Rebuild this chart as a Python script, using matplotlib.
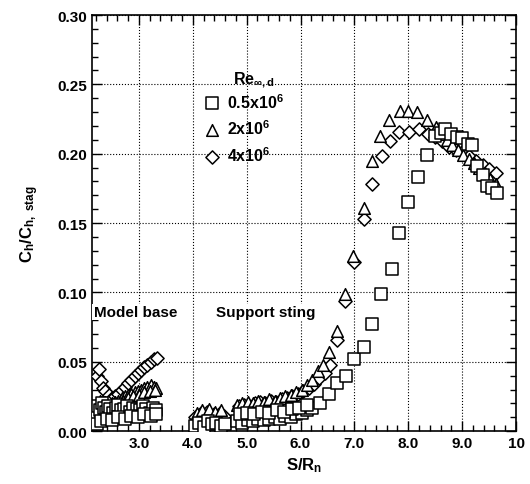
import matplotlib.pyplot as plt
from matplotlib.ticker import MultipleLocator, FixedLocator, FixedFormatter

plt.rcParams['font.family'] = ['Liberation Sans', 'DejaVu Sans']
plt.rcParams['font.weight'] = 'bold'
plt.rcParams['mathtext.fontset'] = 'custom'
plt.rcParams['mathtext.rm'] = 'Liberation Sans:bold'
plt.rcParams['mathtext.it'] = 'Liberation Sans:bold'
plt.rcParams['mathtext.bf'] = 'Liberation Sans:bold'

# Re = 0.5x10^6 (squares)
sq_x = [2.22, 2.25, 2.28, 2.31, 2.35, 2.39, 2.43, 2.47, 2.52, 2.57, 2.62, 2.67,
        2.72, 2.78, 2.84, 2.90, 2.96, 3.02, 3.08, 3.14, 3.20, 3.26, 3.32,
        2.22, 2.30, 2.40, 2.50, 2.62, 2.74, 2.86, 2.98, 3.10, 3.22, 3.32,
        4.05, 4.12, 4.20, 4.28, 4.36, 4.44, 4.52, 4.60,
        4.82, 4.92, 5.02, 5.12, 5.22, 5.32, 5.42, 5.52, 5.62, 5.72, 5.82, 5.92,
        6.02, 6.12, 6.22, 6.37, 6.52,
        4.88, 5.00, 5.14, 5.28, 5.42, 5.56, 5.70, 5.84, 5.98, 6.12,
        6.68, 6.85, 7.00, 7.17, 7.33, 7.50, 7.69, 7.83, 8.00, 8.19, 8.35, 8.50,
        8.60, 8.69, 8.80, 8.90, 9.00, 9.10, 9.18, 9.28, 9.38, 9.46, 9.56, 9.65]
sq_y = [0.012, 0.018, 0.015, 0.020, 0.017, 0.014, 0.018, 0.016, 0.013, 0.017, 0.019, 0.015,
        0.016, 0.018, 0.014, 0.017, 0.016, 0.015, 0.018, 0.016, 0.013, 0.017, 0.015,
        0.005, 0.007, 0.009, 0.008, 0.010, 0.009, 0.011, 0.010, 0.012, 0.011, 0.012,
        0.004, 0.006, 0.003, 0.007, 0.005, 0.006, 0.004, 0.005,
        0.007, 0.006, 0.008, 0.007, 0.009, 0.008, 0.009, 0.010, 0.009, 0.011, 0.010, 0.012,
        0.013, 0.015, 0.017, 0.020, 0.027,
        0.012, 0.013, 0.012, 0.014, 0.013, 0.015, 0.014, 0.016, 0.017, 0.019,
        0.035, 0.040, 0.052, 0.061, 0.077, 0.099, 0.117, 0.143, 0.165, 0.183, 0.199, 0.213,
        0.215, 0.218, 0.214, 0.212, 0.211, 0.207, 0.206, 0.191, 0.185, 0.177, 0.175, 0.172]

# Re = 2x10^6 (triangles)
tr_x = [2.22, 2.27, 2.32, 2.38, 2.44, 2.50, 2.56, 2.62, 2.68, 2.74, 2.80, 2.86,
        2.92, 2.98, 3.04, 3.10, 3.16, 3.22, 3.28, 3.32,
        2.70, 2.80, 2.90, 3.00, 3.10, 3.20, 3.30,
        4.08, 4.18, 4.30, 4.42, 4.52,
        4.82, 4.92, 5.02, 5.12, 5.22, 5.32, 5.42, 5.52, 5.62, 5.72, 5.82, 5.92,
        6.02, 6.12, 6.22, 6.32, 6.42, 6.52,
        6.67, 6.83, 6.98, 7.17, 7.33, 7.48, 7.65, 7.85, 8.00, 8.17, 8.35, 8.52,
        8.62, 8.72, 8.82, 8.92, 9.02, 9.12, 9.22, 9.32, 9.42, 9.52, 9.62]
tr_y = [0.020, 0.022, 0.019, 0.021, 0.018, 0.020, 0.021, 0.022, 0.024, 0.025, 0.026, 0.027,
        0.028, 0.029, 0.030, 0.031, 0.032, 0.033, 0.032, 0.031,
        0.022, 0.024, 0.025, 0.026, 0.028, 0.029, 0.030,
        0.013, 0.015, 0.016, 0.014, 0.015,
        0.019, 0.020, 0.021, 0.020, 0.022, 0.021, 0.023, 0.022, 0.024, 0.025, 0.026, 0.028,
        0.030, 0.033, 0.037, 0.043, 0.048, 0.057,
        0.072, 0.099, 0.126, 0.161, 0.195, 0.213, 0.224, 0.231, 0.231, 0.230, 0.224, 0.219,
        0.214, 0.210, 0.206, 0.203, 0.199, 0.196, 0.193, 0.190, 0.186, 0.182, 0.178]

# Re = 4x10^6 (diamonds)
dm_x = [2.22, 2.26, 2.30, 2.34, 2.38, 2.44, 2.50, 2.56, 2.62, 2.68, 2.74, 2.80,
        2.86, 2.92, 2.98, 3.04, 3.10, 3.16, 3.22, 3.28, 3.33,
        2.24, 2.32, 2.42, 2.52,
        4.05, 4.15, 4.27, 4.40, 4.50, 4.58,
        4.85, 4.95, 5.05, 5.15, 5.25, 5.35, 5.45, 5.55, 5.65, 5.75, 5.85, 5.95,
        6.05, 6.15, 6.25, 6.35, 6.45, 6.55,
        6.67, 6.83, 7.00, 7.17, 7.33, 7.52, 7.67, 7.82, 8.02, 8.20, 8.37, 8.50,
        8.62, 8.75, 8.88, 9.00, 9.12, 9.25, 9.38, 9.50, 9.62]
dm_y = [0.040, 0.045, 0.036, 0.031, 0.029, 0.026, 0.024, 0.025, 0.027, 0.030, 0.032, 0.035,
        0.037, 0.040, 0.042, 0.044, 0.046, 0.048, 0.050, 0.052, 0.053,
        0.018, 0.020, 0.017, 0.019,
        0.010, 0.013, 0.014, 0.012, 0.013, 0.011,
        0.018, 0.019, 0.018, 0.020, 0.021, 0.020, 0.022, 0.021, 0.023, 0.024, 0.025, 0.027,
        0.029, 0.031, 0.034, 0.038, 0.042, 0.048,
        0.066, 0.094, 0.122, 0.153, 0.178, 0.198, 0.209, 0.216, 0.216, 0.218, 0.214, 0.212,
        0.209, 0.205, 0.203, 0.201, 0.198, 0.195, 0.192, 0.189, 0.186]

labels = ['0.5x10$^6$', '2x10$^6$', '4x10$^6$']
x_ticks = [3, 4, 5, 6, 7, 8, 9, 10]
x_ticklabels = ['3.0', '4.0', '5.0', '6.0', '7.0', '8.0', '9.0', '10']

fig = plt.figure(figsize=(5.30, 4.85), dpi=100)
ax = fig.add_axes([0.1736, 0.109, 0.80, 0.858])

kw = dict(facecolor='white', edgecolor='black', linewidths=1.1)
ax.scatter(dm_x, dm_y, marker='D', s=45, zorder=3, **kw)
ax.scatter(tr_x, tr_y, marker='^', s=70, zorder=4, **kw)
ax.scatter(sq_x, sq_y, marker='s', s=75, zorder=5, **kw)

ax.set_xlim(2.13, 10)
ax.set_ylim(0, 0.30)
ax.xaxis.set_major_locator(FixedLocator(x_ticks))
ax.xaxis.set_major_formatter(FixedFormatter(x_ticklabels))
ax.xaxis.set_minor_locator(MultipleLocator(0.2))
ax.yaxis.set_major_locator(MultipleLocator(0.05))
ax.yaxis.set_minor_locator(MultipleLocator(0.01))
ax.yaxis.set_major_formatter(plt.FuncFormatter(lambda v, p: f'{v:.2f}'))
ax.tick_params(which='both', direction='in', top=True, right=True, labelsize=11, width=1)
ax.tick_params(which='major', length=7)
ax.tick_params(which='minor', length=4)
ax.grid(True, which='major', linestyle=':', color='black', linewidth=0.8)
for s in ax.spines.values():
    s.set_linewidth(1.2)

ax.set_xlabel('S/R$_n$', fontsize=12, fontweight='bold', labelpad=4)
ax.set_ylabel('C$_h$/C$_{h,\\ stag}$', fontsize=12, fontweight='bold', labelpad=12)

ax.text(2.16, 0.0858, 'Model base', fontsize=11, fontweight='bold', va='center', ha='left',
        bbox=dict(facecolor='white', edgecolor='none', pad=1))
ax.text(4.44, 0.0858, 'Support sting', fontsize=11, fontweight='bold', va='center', ha='left',
        bbox=dict(facecolor='white', edgecolor='none', pad=1))

ax.text(0.333, 0.845, 'Re$_{\\infty,d}$', transform=ax.transAxes, fontsize=11.5,
        fontweight='bold', va='center', ha='left')
h1 = ax.scatter([], [], marker='s', s=75, **kw)
h2 = ax.scatter([], [], marker='^', s=70, **kw)
h3 = ax.scatter([], [], marker='D', s=45, **kw)
leg = ax.legend([h1, h2, h3], labels, loc='upper left', bbox_to_anchor=(0.255, 0.815),
                frameon=False, fontsize=11.5, handletextpad=0.2, labelspacing=0.5,
                borderpad=0, borderaxespad=0, handlelength=1.5)

fig.savefig('out.png', dpi=100)
